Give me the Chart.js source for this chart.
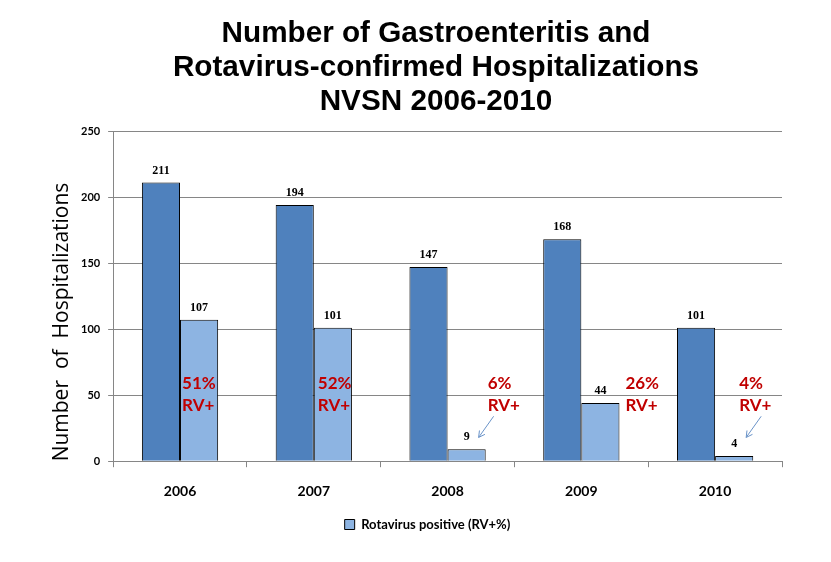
<!DOCTYPE html>
<html>
<head>
<meta charset="utf-8">
<script src="https://cdn.jsdelivr.net/npm/chart.js@4.4.1/dist/chart.umd.min.js"></script>
<style>
  html, body { margin: 0; padding: 0; background: #fff; }
</style>
</head>
<body>
<canvas id="myChart" width="831" height="562"></canvas>
<script>
// data
var years = ["2006", "2007", "2008", "2009", "2010"];
var gastroHosp = [211, 194, 147, 168, 101];
var rotaPositive = [107, 101, 9, 44, 4];
var rvPercent = ["51%", "52%", "6%", "26%", "4%"];
var hasArrow = [false, false, true, false, true];
var titleLines = [
  "Number of Gastroenteritis and",
  "Rotavirus-confirmed Hospitalizations",
  "NVSN 2006-2010",
];
var yTitle = "Number  of  Hospitalizations";

// left edge of each RV+ note, in px from the light bar centre
var noteShift = [-17, -15, 21, 25, 5];

// title + y title, drawn by hand so they can sit off-centre like the original
var headings = {
  id: "headings",
  afterDraw: function (chart) {
    var c = chart.ctx;
    c.save();
    c.fillStyle = "#000";
    c.textAlign = "center";
    c.textBaseline = "middle";
    c.font = "bold 29.7px 'Liberation Sans'";
    titleLines.forEach(function (t, i) {
      c.fillText(t, 436, 34 + i * 34);
    });
    c.translate(62, 322);
    c.rotate(-Math.PI / 2);
    c.font = "21px 'Open Sans'";
    c.fillText(yTitle, 0, 0);
    c.restore();
  },
};

// value labels + RV+ notes
var barNotes = {
  id: "barNotes",
  afterDatasetsDraw: function (chart) {
    var c = chart.ctx;
    var y = chart.scales.y;
    c.save();
    c.fillStyle = "#000";
    c.font = "bold 12px 'Liberation Serif'";
    c.textAlign = "center";
    c.textBaseline = "bottom";
    chart.data.datasets.forEach(function (ds, d) {
      chart.getDatasetMeta(d).data.forEach(function (bar, i) {
        c.fillText(ds.data[i], bar.x, bar.y - 6);
      });
    });

    var light = chart.getDatasetMeta(1).data;
    c.font = "bold 17px Lato";
    c.fillStyle = "#C00000";
    c.textAlign = "left";
    c.textBaseline = "middle";
    light.forEach(function (bar, i) {
      var x = bar.x + noteShift[i];
      c.fillText(rvPercent[i], x, y.getPixelForValue(59));
      c.fillText("RV+", x, y.getPixelForValue(42));
      if (hasArrow[i]) {
        var x1 = bar.x + 27, y1 = y.getPixelForValue(34);
        var x2 = bar.x + 12, y2 = y.getPixelForValue(18);
        c.strokeStyle = "#6A93C8";
        c.lineWidth = 1;
        c.beginPath();
        c.moveTo(x1, y1);
        c.lineTo(x2, y2);
        c.stroke();
        var a = Math.atan2(y2 - y1, x2 - x1);
        c.beginPath();
        c.moveTo(x2 - 7 * Math.cos(a - 0.5), y2 - 7 * Math.sin(a - 0.5));
        c.lineTo(x2, y2);
        c.lineTo(x2 - 7 * Math.cos(a + 0.5), y2 - 7 * Math.sin(a + 0.5));
        c.stroke();
      }
    });
    c.restore();
  },
};

var ctx = document.getElementById("myChart");
var myChart = new Chart(ctx, {
  type: "bar",
  data: {
    labels: years,
    datasets: [
      {
        label: "Gastroenteritis",
        data: gastroHosp,
        backgroundColor: "#4F81BD",
        borderColor: "#000",
        borderWidth: 1,
      },
      {
        label: "Rotavirus positive (RV+%)",
        data: rotaPositive,
        backgroundColor: "#8DB4E2",
        borderColor: "#000",
        borderWidth: 1,
      },
    ],
  },
  options: {
    responsive: false,
    animation: false,
    categoryPercentage: 0.57,
    barPercentage: 1,
    layout: {
      padding: { left: 73, right: 49, top: 131, bottom: 21 },
    },
    scales: {
      x: {
        grid: {
          offset: true,
          drawOnChartArea: false,
          tickLength: 6,
          color: "#868686",
        },
        border: { color: "#868686" },
        ticks: {
          color: "#000",
          padding: 16,
          font: { family: "Lato", size: 14, weight: "bold" },
        },
      },
      y: {
        min: 0,
        max: 250,
        ticks: {
          stepSize: 50,
          color: "#000",
          padding: 8,
          font: { family: "Lato", size: 11, weight: "bold" },
        },
        grid: { color: "#868686", tickLength: 5 },
        border: { color: "#868686" },
      },
    },
    plugins: {
      legend: {
        position: "bottom",
        labels: {
          color: "#000",
          boxWidth: 10,
          boxHeight: 10,
          padding: 2,
          font: { family: "Lato", size: 13, weight: "bold" },
          filter: function (item) {
            return item.datasetIndex === 1;
          },
        },
      },
      tooltip: { enabled: false },
    },
  },
  plugins: [barNotes, headings],
});
</script>
</body>
</html>
